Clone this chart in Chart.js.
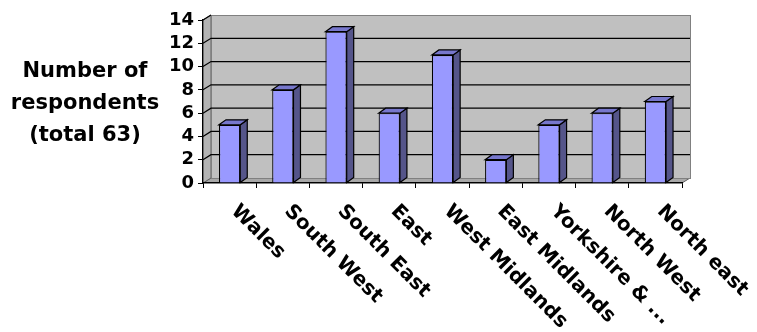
<!DOCTYPE html>
<html>
<head>
<meta charset="utf-8">
<script src="https://cdn.jsdelivr.net/npm/chart.js@4.4.1/dist/chart.umd.min.js"></script>
<style>
  body { margin: 0; background: #fff; }
  #wrap { width: 757px; height: 332px; }
</style>
</head>
<body>
<div id="wrap"><canvas id="myChart" width="757" height="332"></canvas></div>
<script>
  const regions = ['Wales', 'South West', 'South East', 'East', 'West Midlands',
                   'East Midlands', 'Yorkshire & ...', 'North West', 'North east'];
  const respondents = [5, 8, 13, 6, 11, 2, 5, 6, 7];
  const yMax = 14;
  const yStep = 2;
  const yTitle = ['Number of', 'respondents', '(total 63)'];

  const FONT = '"DejaVu Sans", sans-serif';
  const wallDx = 8, wallDy = -5;   // depth of the back wall
  const barDx = 7, barDy = -5;     // depth of each bar

  // draws the grey walls, the 3d bar faces and the rotated labels
  const threeD = {
    id: 'threeD',
    beforeDraw(chart) {
      const ctx = chart.ctx;
      const a = chart.chartArea;
      const y = chart.scales.y;
      ctx.save();
      ctx.lineWidth = 1;
      // floor
      ctx.fillStyle = '#a8a8a8';
      ctx.strokeStyle = '#606060';
      ctx.beginPath();
      ctx.moveTo(a.left, a.bottom);
      ctx.lineTo(a.right, a.bottom);
      ctx.lineTo(a.right + wallDx, a.bottom + wallDy);
      ctx.lineTo(a.left + wallDx, a.bottom + wallDy);
      ctx.closePath();
      ctx.fill();
      ctx.stroke();
      // left wall
      ctx.fillStyle = '#b4b4b4';
      ctx.beginPath();
      ctx.moveTo(a.left, a.bottom);
      ctx.lineTo(a.left, a.top);
      ctx.lineTo(a.left + wallDx, a.top + wallDy);
      ctx.lineTo(a.left + wallDx, a.bottom + wallDy);
      ctx.closePath();
      ctx.fill();
      ctx.stroke();
      // back wall
      ctx.fillStyle = '#c0c0c0';
      ctx.fillRect(a.left + wallDx, a.top + wallDy, a.right - a.left, a.bottom - a.top);
      ctx.strokeStyle = '#808080';
      ctx.strokeRect(a.left + wallDx + 0.5, a.top + wallDy + 0.5, a.right - a.left, a.bottom - a.top);
      // grid lines on the walls
      ctx.strokeStyle = '#000';
      ctx.lineWidth = 1.2;
      y.ticks.forEach(t => {
        const py = y.getPixelForValue(t.value);
        if (t.value === 0) return;
        ctx.beginPath();
        ctx.moveTo(a.left, py);
        ctx.lineTo(a.left + wallDx, py + wallDy);
        if (t.value !== yMax) ctx.lineTo(a.right + wallDx, py + wallDy);
        ctx.stroke();
      });
      ctx.restore();
    },
    afterDatasetsDraw(chart) {
      const ctx = chart.ctx;
      const meta = chart.getDatasetMeta(0);
      ctx.save();
      ctx.lineWidth = 1.2;
      ctx.strokeStyle = '#000';
      meta.data.forEach(bar => {
        const p = bar.getProps(['x', 'y', 'base', 'width'], true);
        const left = p.x - p.width / 2;
        const right = p.x + p.width / 2;
        // side
        ctx.fillStyle = '#55558a';
        ctx.beginPath();
        ctx.moveTo(right, p.y);
        ctx.lineTo(right + barDx, p.y + barDy);
        ctx.lineTo(right + barDx, p.base + barDy);
        ctx.lineTo(right, p.base);
        ctx.closePath();
        ctx.fill();
        ctx.stroke();
        // top
        ctx.fillStyle = '#7777cc';
        ctx.beginPath();
        ctx.moveTo(left, p.y);
        ctx.lineTo(left + barDx, p.y + barDy);
        ctx.lineTo(right + barDx, p.y + barDy);
        ctx.lineTo(right, p.y);
        ctx.closePath();
        ctx.fill();
        ctx.stroke();
      });
      ctx.restore();
    },
    afterDraw(chart) {
      const ctx = chart.ctx;
      const a = chart.chartArea;
      const x = chart.scales.x;
      ctx.save();
      ctx.fillStyle = '#000';
      // category labels, turned 45 degrees clockwise
      ctx.font = 'bold 20px ' + FONT;
      ctx.textAlign = 'left';
      ctx.textBaseline = 'alphabetic';
      chart.data.labels.forEach((lbl, i) => {
        ctx.save();
        ctx.translate(x.getPixelForValue(i) + 1, a.bottom + 29);
        ctx.rotate(Math.PI / 4);
        ctx.fillText(lbl, 0, 0);
        ctx.restore();
      });
      // y axis title, horizontal
      ctx.font = 'bold 21px ' + FONT;
      ctx.textAlign = 'center';
      yTitle.forEach((line, i) => {
        ctx.fillText(line, 85, 77 + i * 32);
      });
      ctx.restore();
    }
  };

  new Chart('myChart', {
    type: 'bar',
    data: {
      labels: regions,
      datasets: [{
        label: 'Respondents',
        data: respondents,
        backgroundColor: '#9999ff',
        borderColor: '#000',
        borderWidth: 1.2,
        barPercentage: 0.4,
        categoryPercentage: 1.0
      }]
    },
    options: {
      responsive: false,
      animation: false,
      layout: { padding: { left: 0, top: 20, right: 75, bottom: 0 } },
      plugins: {
        legend: { display: false },
        tooltip: { enabled: false }
      },
      scales: {
        x: {
          grid: { drawOnChartArea: false, drawTicks: true, tickLength: 5, color: '#000' },
          border: { display: true, color: '#000', width: 1.2 },
          ticks: { display: false },
          afterFit(scale) { scale.height = 149; }
        },
        y: {
          min: 0,
          max: yMax,
          ticks: {
            stepSize: yStep,
            autoSkip: false,
            color: '#000',
            padding: 4,
            font: { family: FONT, size: 18, weight: 'bold' }
          },
          grid: { drawOnChartArea: false, drawTicks: true, tickLength: 5, color: '#000' },
          border: { display: true, color: '#000', width: 1.2 },
          afterFit(scale) { scale.width = 203; }
        }
      }
    },
    plugins: [threeD]
  });
</script>
</body>
</html>
